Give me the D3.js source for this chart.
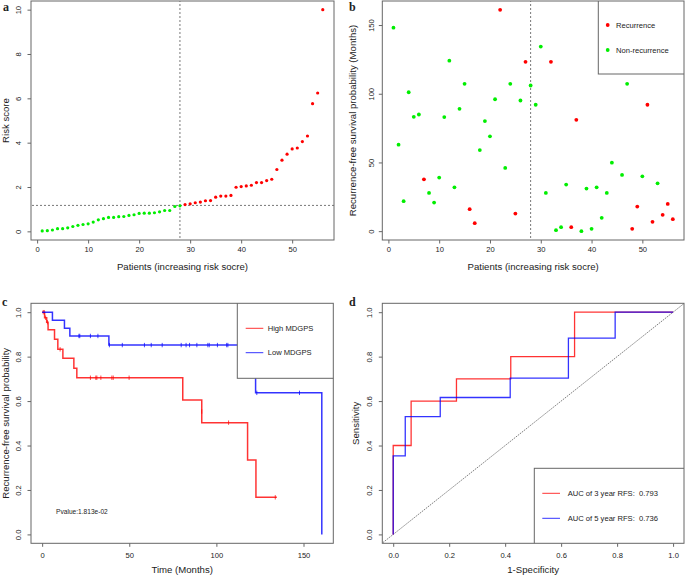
<!DOCTYPE html>
<html><head><meta charset="utf-8">
<script src="https://cdn.jsdelivr.net/npm/d3@7"></script>
<style>body{margin:0;background:#fff}svg{display:block}text{font-family:"Liberation Sans",Arial,sans-serif;fill:#222;white-space:pre}</style>
</head><body><svg id="chart" width="685" height="576"></svg>
<script>
// ---------- DATA ----------
const patients = d3.range(1, 57);
const riskScore = [0.02,0.03,0.06,0.12,0.12,0.16,0.22,0.27,0.31,0.34,0.42,0.52,0.57,0.63,0.63,0.66,0.67,0.72,0.75,0.81,0.82,0.82,0.84,0.88,0.94,0.94,1.12,1.15,
  1.21,1.24,1.29,1.32,1.38,1.39,1.54,1.59,1.59,1.62,1.99,2.02,2.05,2.08,2.20,2.20,2.29,2.35,2.79,3.21,3.48,3.72,3.76,4.05,4.30,5.76,6.24,10.0];
const cutoffPatient = 28;
const cutoffScore = 1.17;
const rfsMonths = [148.1,62.9,21.8,101.1,83.2,84.9,37.7,27.8,20.8,39,83,124.1,31.9,89,107.2,16,5.8,59,80.1,69,96,161.1,46,107.2,12.8,95.1,123.2,106,
  92,134.3,27.8,123.2,0.7,2.9,33.9,2.9,81,0,31,1.7,31.9,9.7,27.8,49.8,130,40.9,107.2,1.7,17.9,39.9,92,6.8,34.8,11.9,19.8,8.7];
const recurrence = [0,0,0,0,0,0,1,0,0,0,0,0,0,0,0,1,1,0,0,0,0,1,0,0,1,0,1,0,
  0,0,0,1,0,0,0,1,1,0,0,0,0,0,0,0,0,0,0,1,1,0,1,1,0,1,1,1];
const statusLabels = ["Recurrence", "Non-recurrence"];

// Kaplan-Meier (panel c)
const kmHighTime = [0,1.4,2.6,3.4,7.1,9,11.9,18.2,19.9,80.7,91.6,117.9,122.7,134.7];
const kmHighSurv = [1,0.975,0.955,0.921,0.878,0.833,0.793,0.748,0.705,0.605,0.503,0.335,0.167,0.167];
const kmHighCensT = [0.6,1.2,2,3,10.3,27.7,30.8,31.4,33.7,40,40.8,49.9,91.6,107,133.8];
const kmHighCensS = [1,1,0.975,0.955,0.833,0.705,0.705,0.705,0.705,0.705,0.705,0.705,0.553,0.503,0.167];
const kmLowTime = [0,5.9,12.8,15.9,38.3,122.5,160.5,160.5];
const kmLowSurv = [1,0.964,0.928,0.893,0.852,0.637,0.637,0];
const kmLowCensT = [21.1,21.6,27.7,32,38.6,46,58.7,62.6,68.9,79.8,82.6,84.6,88.8,95.1,95.9,100.6,105.9,106.6,123.2,147.7];
const kmLowCensS = [0.893,0.893,0.893,0.893,0.852,0.852,0.852,0.852,0.852,0.852,0.852,0.852,0.852,0.852,0.852,0.852,0.852,0.852,0.637,0.637];
const kmLabels = ["High MDGPS", "Low MDGPS"];
const pvalueText = "Pvalue:1.813e-02";

// ROC (panel d)
const roc3FPR = [0,0,0.064,0.226,0.42,0.648,1];
const roc3TPR = [0,0.4,0.6,0.7,0.8,1,1];
const roc5FPR = [0,0,0.043,0.168,0.418,0.626,0.793,1];
const roc5TPR = [0,0.353,0.53,0.616,0.703,0.883,1,1];
const rocLabels = ["AUC of 3 year RFS:  0.793", "AUC of 5 year RFS:  0.736"];

const ticksA_x = [0,10,20,30,40,50], ticksA_y = [0,2,4,6,8,10];
const ticksB_y = [0,50,100,150];
const ticksC_x = [0,50,100,150], ticksProb = [0,0.2,0.4,0.6,0.8,1.0];

// ---------- DRAW ----------
const RED = "#ff0000", GREEN = "#00ee00", BLUE = "#0000ff", BOX = "#666";
const svg = d3.select("#chart");
svg.append("rect").attr("width",685).attr("height",576).attr("fill","#fff");

function panel(o){
  const g = svg.append("g");
  const x = d3.scaleLinear().domain(o.xd).range([o.x0, o.x1]);
  const y = d3.scaleLinear().domain(o.yd).range([o.y1, o.y0]);
  const clipId = "clip" + o.id;
  svg.append("clipPath").attr("id", clipId).append("rect")
    .attr("x", o.x0).attr("y", o.y0).attr("width", o.x1-o.x0).attr("height", o.y1-o.y0);
  const ax = g.append("g").attr("transform",`translate(0,${o.y1})`)
    .call(d3.axisBottom(x).tickValues(o.xt).tickSize(3.5).tickPadding(o.xpad).tickFormat(o.xf || d3.format("d")));
  const ay = g.append("g").attr("transform",`translate(${o.x0},0)`)
    .call(d3.axisLeft(y).tickValues(o.yt).tickSize(3.5).tickFormat(o.yf || d3.format("d")));
  [ax, ay].forEach(a => { a.select(".domain").remove(); a.selectAll("line").attr("stroke", BOX);
    a.selectAll("text").style("font-size","7.6px").style("font-family",'"Liberation Sans",Arial,sans-serif').attr("fill","#333"); });
  ay.selectAll("text").attr("transform","rotate(-90)").attr("x",0).attr("y",-o.ypad).attr("dy","0").style("text-anchor","middle");
  g.append("text").attr("x",(o.x0+o.x1)/2).attr("y",o.xty).attr("text-anchor","middle").style("font-size","9.6px").text(o.xl);
  g.append("text").attr("transform",`translate(${o.ytx},${(o.y0+o.y1)/2}) rotate(-90)`).attr("text-anchor","middle")
    .attr("dy","0.35em").style("font-size","9.6px").text(o.yl);
  g.append("text").attr("x",o.lx).attr("y",o.ly).style("font-family",'"Liberation Serif","DejaVu Serif",serif')
    .style("font-weight","bold").style("font-size","12px").attr("fill","#111").text(o.letter);
  const plot = svg.append("g").attr("clip-path",`url(#${clipId})`);
  return {x, y, plot, g, o};
}
function box(p){
  svg.append("rect").attr("x",p.o.x0).attr("y",p.o.y0).attr("width",p.o.x1-p.o.x0).attr("height",p.o.y1-p.o.y0)
    .attr("fill","none").attr("stroke",BOX).attr("stroke-width",1);
}

// Panel a
const pa = panel({id:"a", x0:31, x1:334, y0:1, y1:240, xd:[-1.2,58.2], yd:[-0.39,10.39], xt:ticksA_x, yt:ticksA_y,
  xpad:3.5, ypad:10, xty:270, ytx:6, xl:"Patients (increasing risk socre)", yl:"Risk score", letter:"a", lx:3, ly:11});
pa.plot.append("line").attr("x1",pa.x(cutoffPatient)).attr("x2",pa.x(cutoffPatient)).attr("y1",0).attr("y2",300)
  .attr("stroke","#555").attr("stroke-dasharray","2,2").attr("stroke-width",0.8);
pa.plot.append("line").attr("x1",0).attr("x2",400).attr("y1",pa.y(cutoffScore)).attr("y2",pa.y(cutoffScore))
  .attr("stroke","#555").attr("stroke-dasharray","2,2").attr("stroke-width",0.8);
pa.plot.selectAll("circle.a").data(patients).join("circle")
  .attr("cx",d=>pa.x(d)).attr("cy",(d,i)=>pa.y(riskScore[i])).attr("r",1.6)
  .attr("fill",d=> d > cutoffPatient ? RED : GREEN);
box(pa);

// Panel b
const pb = panel({id:"b", x0:382.3, x1:684, y0:1, y1:240, xd:[-1.2,58.2], yd:[-6.44,167.5], xt:ticksA_x, yt:ticksB_y,
  xpad:3.5, ypad:8, xty:270, ytx:353, xl:"Patients (increasing risk socre)", yl:"Recurrence-free survival probability (Months)", letter:"b", lx:349, ly:11});
pb.plot.append("line").attr("x1",pb.x(cutoffPatient)).attr("x2",pb.x(cutoffPatient)).attr("y1",0).attr("y2",300)
  .attr("stroke","#555").attr("stroke-dasharray","2,2").attr("stroke-width",0.8);
pb.plot.selectAll("circle.b").data(patients).join("circle")
  .attr("cx",d=>pb.x(d)).attr("cy",(d,i)=>pb.y(rfsMonths[i])).attr("r",1.9)
  .attr("fill",(d,i)=> recurrence[i] ? RED : GREEN);
{
  const lg = pb.plot.append("g");
  lg.append("rect").attr("x",598.3).attr("y",-2).attr("width",100).attr("height",76).attr("fill","#fff").attr("stroke",BOX);
  statusLabels.forEach((t,i)=>{
    lg.append("circle").attr("cx",607.7).attr("cy",25+25*i).attr("r",1.9).attr("fill", i===0?RED:GREEN);
    lg.append("text").attr("x",616).attr("y",25+25*i).attr("dy","0.35em").style("font-size","7.6px").text(t);
  });
}
box(pb);

// Panel c
const fmt1 = d3.format(".1f");
const pc = panel({id:"c", x0:31, x1:333.3, y0:303.3, y1:543.3, xd:[-6.4,167.1], yd:[-0.04,1.04], xt:ticksC_x, yt:ticksProb,
  xf:d3.format("d"), yf:fmt1, xpad:6, ypad:10, xty:573, ytx:6, xl:"Time (Months)", yl:"Recurrence-free survival probability", letter:"c", lx:2, ly:306});
function km(p, T, S, CT, CS, color){
  const line = d3.line().curve(d3.curveStepAfter).x(d=>p.x(d[0])).y(d=>p.y(d[1]));
  p.plot.append("path").attr("d", line(T.map((t,i)=>[t,S[i]]))).attr("fill","none").attr("stroke",color).attr("stroke-width",1.5).attr("stroke-opacity",0.8);
  CT.forEach((t,i)=>{
    p.plot.append("line").attr("x1",p.x(t)).attr("x2",p.x(t)).attr("y1",p.y(CS[i])-2.2).attr("y2",p.y(CS[i])+2.2)
      .attr("stroke",color).attr("stroke-width",0.9).attr("stroke-opacity",0.8);
  });
}
km(pc, kmHighTime, kmHighSurv, kmHighCensT, kmHighCensS, RED);
km(pc, kmLowTime, kmLowSurv, kmLowCensT, kmLowCensS, BLUE);
pc.plot.append("text").attr("x",pc.x(8)).attr("y",pc.y(0.1)).attr("dy","0.35em").style("font-size","6.6px").text(pvalueText);
{
  const lg = pc.plot.append("g");
  lg.append("rect").attr("x",237.3).attr("y",301).attr("width",100).attr("height",77.3).attr("fill","#fff").attr("stroke",BOX);
  kmLabels.forEach((t,i)=>{
    const yy = 328.3 + 24.4*i;
    lg.append("line").attr("x1",245.7).attr("x2",263.3).attr("y1",yy).attr("y2",yy).attr("stroke", i===0?RED:BLUE).attr("stroke-width",1).attr("stroke-opacity",0.8);
    lg.append("text").attr("x",267.7).attr("y",yy).attr("dy","0.35em").style("font-size","7.6px").text(t);
  });
}
box(pc);

// Panel d
const pd = panel({id:"d", x0:382.3, x1:684, y0:303.3, y1:543.3, xd:[-0.039,1.039], yd:[-0.04,1.04], xt:ticksProb, yt:ticksProb,
  xf:fmt1, yf:fmt1, xpad:6, ypad:10, xty:573, ytx:356, xl:"1-Specificity", yl:"Sensitivity", letter:"d", lx:349, ly:306});
pd.plot.append("line").attr("x1",pd.x(-0.1)).attr("y1",pd.y(-0.1)).attr("x2",pd.x(1.1)).attr("y2",pd.y(1.1))
  .attr("stroke","#444").attr("stroke-width",0.7).attr("stroke-dasharray","1.5,1");
{
  const line = d3.line().curve(d3.curveStepAfter).x(d=>pd.x(d[0])).y(d=>pd.y(d[1]));
  pd.plot.append("path").attr("d", line(roc3FPR.map((f,i)=>[f, roc3TPR[i]]))).attr("fill","none").attr("stroke",RED).attr("stroke-width",1.3).attr("stroke-opacity",0.8);
  pd.plot.append("path").attr("d", line(roc5FPR.map((f,i)=>[f, roc5TPR[i]]))).attr("fill","none").attr("stroke",BLUE).attr("stroke-width",1.3).attr("stroke-opacity",0.8);
  const lg = pd.plot.append("g");
  lg.append("rect").attr("x",534.3).attr("y",468.3).attr("width",160).attr("height",80).attr("fill","#fff").attr("stroke",BOX);
  rocLabels.forEach((t,i)=>{
    const yy = 493.3 + 25*i;
    lg.append("line").attr("x1",542.3).attr("x2",560).attr("y1",yy).attr("y2",yy).attr("stroke", i===0?RED:BLUE).attr("stroke-width",1).attr("stroke-opacity",0.8);
    lg.append("text").attr("x",567.7).attr("y",yy).attr("dy","0.35em").attr("xml:space","preserve").style("font-size","7.6px").text(t);
  });
}
box(pd);
</script></body></html>
